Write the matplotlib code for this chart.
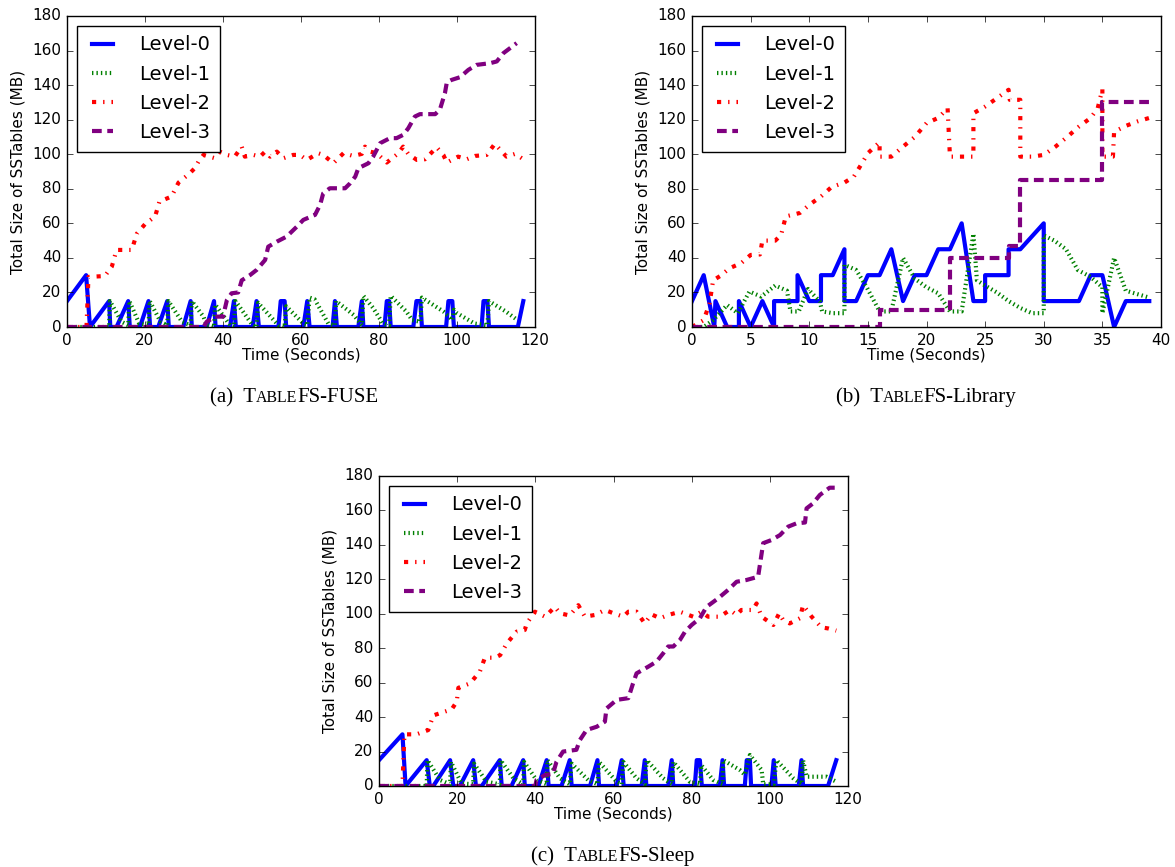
import matplotlib
matplotlib.use('Agg')
import matplotlib.pyplot as plt
from matplotlib.transforms import IdentityTransform

plt.style.use('classic')
plt.rcParams.update({
    'figure.facecolor': 'white',
    'savefig.facecolor': 'white',
    'font.family': ['DejaVu Sans'],
    'lines.scale_dashes': False,
    'xtick.direction': 'in',
    'ytick.direction': 'in',
    'xtick.top': True,
    'ytick.right': True,
})

# ---------------- data ----------------
series_names = ['Level-0', 'Level-1', 'Level-2', 'Level-3']

# (a) TableFS-FUSE
a_l0_t = [0, 4.9, 5.9, 10.8, 11.1, 12.7, 15.7, 16.1, 18.7, 20.9, 21.3, 23.4, 25.7, 26.1, 29.8, 31.7, 32.0, 35.8, 37.7, 38.1, 41.8, 42.8, 43.3, 47.6, 48.6, 49.2, 54.2, 54.8, 55.8, 56.2, 60.6, 61.6, 62.2, 68.1, 68.7, 69.2, 74.7, 75.6, 76.0, 81.4, 82.0, 82.6, 83.0, 88.8, 89.6, 90.6, 91.0, 97.2, 97.8, 98.8, 99.2, 106.3, 106.8, 107.8, 108.2, 115.6, 117.0]
a_l0_v = [15, 30, 0, 15, 0, 0, 15, 0, 0, 15, 0, 0, 15, 0, 0, 15, 0, 0, 15, 0, 0, 15, 0, 0, 15, 0, 0, 15, 15, 0, 0, 15, 0, 0, 15, 0, 0, 15, 0, 0, 15, 15, 0, 0, 15, 15, 0, 0, 15, 15, 0, 0, 15, 15, 0, 0, 15]
a_l1_t = [0, 10.8, 11.0, 14.0, 15.7, 16.0, 18.5, 20.9, 21.2, 24.0, 25.7, 26.0, 29.5, 31.7, 32.0, 35.0, 35.8, 37.7, 38.0, 41.8, 42.8, 43.2, 47.6, 48.6, 49.0, 54.2, 55.8, 56.2, 60.6, 61.6, 62.2, 63.5, 67.0, 68.7, 69.0, 73.5, 75.6, 76.0, 78.5, 81.0, 82.6, 83.0, 87.0, 88.5, 90.6, 91.0, 96.5, 98.8, 99.2, 100.0, 104.5, 107.8, 108.2, 112.5, 115.5]
a_l1_v = [0, 0, 15, 3, 1, 15, 2, 1, 15, 3, 1, 15, 3, 1, 15, 6, 1, 0, 13, 1, 0, 15, 1, 0, 14, 1, 0, 12, 2, 1, 17, 16, 2, 1, 15, 7, 1, 18, 11, 2, 1, 18, 9, 4, 3, 17, 9, 4, 10, 8, 2, 1, 15, 9, 4]
a_l2_t = [0, 5.0, 5.5, 9.7, 11.5, 12.7, 16.6, 17.9, 20.0, 22.6, 23.7, 26.8, 28.6, 31.5, 32.8, 33.7, 35.0, 37.9, 39.2, 41.0, 43.0, 44.8, 45.6, 47.8, 49.5, 50.8, 52.1, 53.8, 55.5, 58.0, 59.7, 61.5, 64.4, 65.7, 68.3, 70.9, 73.4, 75.6, 76.4, 77.7, 79.4, 82.0, 85.0, 86.2, 87.5, 89.7, 91.8, 94.8, 96.5, 97.4, 100.3, 102.5, 104.6, 107.6, 109.7, 112.7, 114.9, 116.6]
a_l2_v = [0, 0, 29, 29.5, 35, 44.6, 44.6, 54, 59.5, 64, 72.6, 75.5, 83.6, 89, 92, 95.7, 99.6, 97.7, 101.5, 99.6, 98.6, 104.4, 98.6, 99.6, 98.6, 101.5, 98.6, 101.5, 97.7, 99.6, 99.6, 96.7, 100.6, 99.6, 94.8, 100.6, 99, 100.2, 104.4, 101.5, 100.6, 95.2, 100.6, 104.4, 100.2, 96.7, 97.1, 104, 99.6, 95.2, 98.6, 97.1, 99, 99.6, 106, 98.6, 100.2, 97.7]
a_l3_t = [0, 35.0, 35.8, 38.0, 40.0, 41.0, 42.2, 43.9, 44.8, 46.9, 48.6, 50.8, 51.6, 53.8, 56.3, 58.9, 60.6, 63.6, 64.9, 65.7, 67.4, 71.3, 72.6, 73.9, 74.7, 77.3, 78.5, 80.3, 82.8, 84.5, 86.2, 87.5, 89.2, 90.5, 94.4, 95.6, 96.9, 97.4, 98.6, 100.8, 102.9, 105.0, 108.5, 110.2, 111.9, 115.3]
a_l3_v = [0, 0, 3, 6, 6, 15.6, 19.5, 20, 27, 30, 33, 38.8, 46.5, 49.4, 52.3, 58, 62, 64.9, 70.7, 77.4, 80.3, 80.3, 83.2, 87, 91.9, 94.8, 98.6, 106.4, 109.3, 109.3, 111.2, 115, 121.8, 123.2, 123.2, 125.7, 135.3, 141.7, 143, 144.6, 148.8, 151.7, 152.7, 153.7, 158.5, 164.3]

# (b) TableFS-Library
b_l0_t = [0, 1, 1.9, 2.0, 3, 4, 4.0, 5, 6, 7, 7.0, 9, 9.0, 10, 11, 11.0, 12, 13, 13.0, 14, 15, 16, 17, 18, 19, 20, 21, 22, 23, 24, 25, 25.0, 27, 27.0, 28, 30, 30.0, 33, 34, 35, 36, 37, 39]
b_l0_v = [15, 30, 0, 15, 0, 0, 15, 0, 15, 0, 15, 15, 30, 15, 15, 30, 30, 45, 15, 15, 30, 30, 45, 15, 30, 30, 45, 45, 60, 15, 15, 30, 30, 45, 45, 60, 15, 15, 30, 30, 0, 15, 15]
b_l1_t = [0, 1, 1.8, 3, 3.9, 4.9, 5.9, 7.1, 8.1, 8.4, 9.1, 9.9, 10.9, 11.1, 12, 13, 13.0, 14, 14.9, 16, 17, 18, 19, 20, 21, 22, 23, 24, 24.3, 25, 26, 27, 28, 29, 30, 30.0, 30.9, 31.9, 32.9, 34, 35, 35.0, 36, 37, 38, 39]
b_l1_v = [0, 0, 4, 12.7, 8, 20.5, 17.6, 24, 21, 9, 9, 22, 14.7, 9, 8, 8, 36, 33, 23, 9, 9, 40, 28, 23, 19.5, 9, 9, 54, 27, 24, 20, 15, 11, 8, 8, 53, 50, 45, 33, 29, 23, 8, 40, 21, 19, 17]
b_l2_t = [0, 1, 1.5, 1.8, 2.4, 3.2, 4.2, 5, 5.8, 6.0, 7.1, 7.6, 8, 9.2, 10, 11, 11.9, 13, 13.8, 14.5, 15, 16, 16.0, 17, 18, 19, 20, 21, 21.8, 22, 23, 24, 24.0, 25, 26, 27, 27.1, 28, 28.0, 29, 30, 31, 32, 33, 34, 34.6, 35, 35.0, 35.9, 36, 37, 38, 39]
b_l2_v = [0, 4, 13.7, 27, 29.5, 34, 37, 41.7, 42, 50, 50, 53.3, 64, 66, 70.7, 75.5, 81, 83.6, 87, 94.8, 100.6, 107, 98.6, 98.6, 104.4, 110, 118, 121, 126.6, 98.6, 98.6, 98.6, 123.7, 127.6, 132.4, 137.3, 131.5, 131.5, 98.6, 98.6, 99.6, 104.4, 110, 116, 121, 126.6, 137.6, 98.6, 98.6, 113, 116.4, 119, 121]
b_l3_t = [0, 16, 16.0, 22, 22.0, 27, 27.0, 28, 28.0, 35, 35.0, 39]
b_l3_v = [0, 0, 10, 10, 40, 40, 47, 47, 85, 85, 130, 130]

# (c) TableFS-Sleep
c_l0_t = [0, 6.0, 6.8, 12.2, 13.0, 13.9, 18.2, 19.0, 20.7, 24.1, 24.8, 26.3, 30.9, 31.4, 33.9, 36.9, 37.3, 40.8, 42.9, 43.4, 46.7, 48.8, 49.3, 54.0, 55.9, 56.3, 60.8, 62.1, 62.6, 67.2, 68.0, 68.4, 74.0, 74.9, 75.3, 80.8, 81.3, 82.1, 82.6, 87.2, 87.9, 88.3, 93.6, 94.1, 94.9, 95.2, 100.4, 101.0, 101.5, 107.4, 108.1, 108.5, 114.9, 117.0]
c_l0_v = [15, 30, 0, 15, 0, 0, 15, 0, 0, 15, 0, 0, 15, 0, 0, 15, 0, 0, 15, 0, 0, 15, 0, 0, 15, 0, 0, 15, 0, 0, 15, 0, 0, 15, 0, 0, 15, 15, 0, 0, 15, 0, 0, 15, 15, 0, 0, 15, 0, 0, 15, 0, 0, 15]
c_l1_t = [0, 12.2, 12.4, 15.6, 18.2, 18.4, 21.1, 24.1, 24.3, 27.5, 30.9, 31.1, 34.4, 36.9, 37.1, 40.3, 42.9, 43.1, 46.3, 48.8, 49.3, 53.5, 55.9, 56.3, 60.8, 62.1, 62.5, 65.9, 68.0, 68.5, 72.7, 74.9, 75.3, 79.5, 82.1, 82.5, 85.5, 87.9, 88.1, 92.3, 93.6, 94.9, 97.9, 98.3, 101.0, 101.7, 106.0, 108.1, 108.5, 109.4, 114.5, 117.0]
c_l1_v = [0, 0, 15, 3.5, 1, 14, 1.5, 1, 13, 2.5, 1, 15, 4.5, 1, 14, 3.5, 1, 15, 4.5, 1, 13, 3.5, 1, 14, 2.5, 1, 14, 4.5, 1, 15, 4.5, 1, 14, 2.5, 1, 12, 3.5, 1, 15, 9.3, 6.5, 18, 9.3, 1, 1, 15, 4.5, 1, 15, 5.4, 5.4, 2.5]
c_l2_t = [0, 6.0, 6.5, 9.6, 12.6, 13.9, 18.6, 19.9, 20.3, 23.3, 25.8, 27.1, 29.7, 31.0, 32.7, 35.2, 37.3, 37.8, 39.9, 42.5, 45.0, 46.3, 48.8, 51.0, 52.7, 55.2, 57.8, 60.0, 62.5, 63.8, 65.9, 68.0, 69.7, 71.9, 74.0, 77.0, 80.4, 82.5, 84.2, 87.2, 89.8, 91.5, 92.7, 95.7, 96.6, 97.9, 99.1, 100.9, 102.4, 103.4, 105.1, 107.7, 108.5, 110.7, 113.2, 114.9, 117.0]
c_l2_v = [0, 0, 30, 30, 32.5, 41, 44.5, 49, 57, 59.6, 66.4, 74.5, 74.5, 76, 82.8, 89.6, 90.6, 94.4, 101.2, 98.3, 104, 100.3, 99, 105, 98.3, 99.3, 102.2, 100.3, 98.3, 101.2, 101.2, 94.4, 99.7, 97.4, 99.3, 101.2, 98.3, 101.2, 98.3, 98.3, 102.2, 99.3, 102.2, 102.2, 106, 98.3, 96.4, 93.5, 100.3, 96.4, 94.4, 97.4, 105, 98.3, 92.1, 91.5, 90.2]
c_l3_t = [0, 40.0, 40.3, 42.5, 44.5, 45.4, 47.1, 50.5, 51.4, 53.1, 55.7, 57.8, 58.2, 60.8, 63.8, 65.0, 65.9, 68.9, 71.0, 72.7, 74.0, 75.3, 77.0, 78.3, 80.0, 82.1, 83.8, 86.8, 89.3, 91.5, 94.0, 97.0, 97.9, 98.3, 100.4, 102.6, 104.7, 106.8, 109.0, 109.4, 111.0, 112.8, 115.3, 116.6]
c_l3_v = [0, 0, 3.5, 6.4, 7, 14, 20, 21, 26.7, 32.5, 34.4, 37.4, 45, 50, 51, 59.6, 65.4, 69.3, 72.2, 77, 81, 81, 84.8, 89.6, 93.5, 97.4, 104, 109, 113.8, 118.6, 119.6, 121.5, 135, 141, 142.8, 145.7, 150.6, 152.5, 153, 161.2, 164, 169, 173.2, 173.2]

y_ticks = [0, 20, 40, 60, 80, 100, 120, 140, 160, 180]
x_ticks_long = [0, 20, 40, 60, 80, 100, 120]
x_ticks_short = [0, 5, 10, 15, 20, 25, 30, 35, 40]

captions = [
    [('(a)  T', 1.0), ('ABLE', 0.76), ('FS-FUSE', 1.0)],
    [('(b)  T', 1.0), ('ABLE', 0.76), ('FS-Library', 1.0)],
    [('(c)  T', 1.0), ('ABLE', 0.76), ('FS-Sleep', 1.0)],
]

# ---------------- style ----------------
colors = ['#0000ff', '#008000', '#ff0000', '#800080']
dash_styles = [None, (0, (1, 2.2)), (0, (3, 5, 1, 5)), (0, (7, 4))]
LW = 3.0
TICK_FS = 11
LAB_FS = 11
LEG_FS = 14
CAP_FS = 15

W, H = 1175, 867
fig = plt.figure(figsize=(W / 100, H / 100), dpi=100)


def add_panel(rect_px, series, xticks):
    l, t, r, b = rect_px
    ax = fig.add_axes([l / W, (H - b) / H, (r - l) / W, (b - t) / H])
    for (tt, vv), c, ds, name in zip(series, colors, dash_styles, series_names):
        ls = '-' if ds is None else ds
        ax.plot(tt, vv, color=c, linestyle=ls, linewidth=LW, label=name,
                dash_capstyle='butt')
    ax.set_xlim(xticks[0], xticks[-1])
    ax.set_ylim(0, 180)
    ax.set_xticks(xticks)
    ax.set_yticks(y_ticks)
    ax.tick_params(labelsize=TICK_FS, pad=4, length=4)
    ax.set_xlabel('Time (Seconds)', fontsize=LAB_FS, labelpad=0)
    ax.set_ylabel('Total Size of SSTables (MB)', fontsize=LAB_FS, labelpad=5)
    leg = ax.legend(loc='upper left', fontsize=LEG_FS, handlelength=1.65,
                    handletextpad=1.05, borderaxespad=0.5, labelspacing=0.52,
                    borderpad=0.5, frameon=True, fancybox=False)
    leg.get_frame().set_linewidth(1.0)
    leg.get_frame().set_edgecolor('black')
    return ax


add_panel((67, 16, 535, 327),
          [(a_l0_t, a_l0_v), (a_l1_t, a_l1_v), (a_l2_t, a_l2_v), (a_l3_t, a_l3_v)],
          x_ticks_long)
add_panel((692, 16, 1161, 327),
          [(b_l0_t, b_l0_v), (b_l1_t, b_l1_v), (b_l2_t, b_l2_v), (b_l3_t, b_l3_v)],
          x_ticks_short)
add_panel((379, 476, 848, 786),
          [(c_l0_t, c_l0_v), (c_l1_t, c_l1_v), (c_l2_t, c_l2_v), (c_l3_t, c_l3_v)],
          x_ticks_long)

renderer = fig.canvas.get_renderer()


def caption(parts, xc_px, ybase_px):
    texts = []
    widths = []
    for s, sc in parts:
        tx = fig.text(0, 0, s, fontsize=CAP_FS * sc, family='Liberation Serif',
                      va='baseline', ha='left', transform=IdentityTransform())
        texts.append(tx)
        widths.append(tx.get_window_extent(renderer).width)
    total = sum(widths)
    x = xc_px - total / 2
    for tx, w in zip(texts, widths):
        tx.set_position((x, H - ybase_px))
        x += w


caption(captions[0], 294, 402)
caption(captions[1], 926, 402)
caption(captions[2], 613, 861)

fig.savefig('out.png', dpi=100)
